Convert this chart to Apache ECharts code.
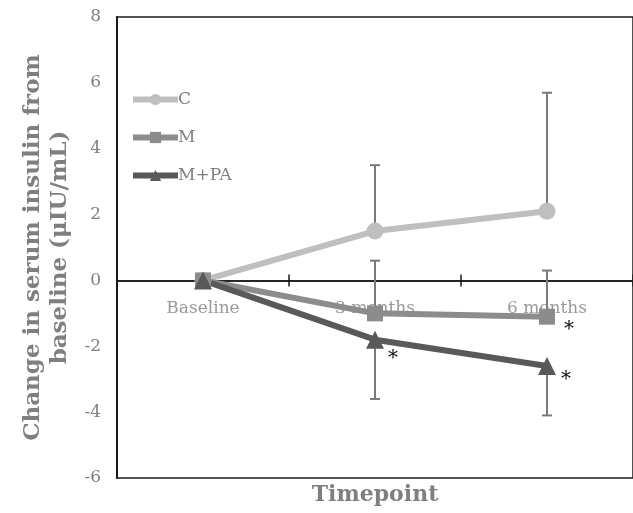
<!DOCTYPE html>
<html>
<head>
<meta charset="utf-8">
<script src="https://cdn.jsdelivr.net/npm/echarts@6/dist/echarts.min.js"></script>
<style>html,body{margin:0;padding:0;background:#fff}#c{width:633px;height:513px}</style>
</head>
<body>
<div id="c"></div>
<script>
const categories = ['Baseline', '3 months', '6 months'];
const seriesNames = ['C', 'M', 'M+PA'];
const valuesC = [0, 1.5, 2.1];
const valuesM = [0, -1.0, -1.1];
const valuesMPA = [0, -1.8, -2.6];
// signed error bar lengths (positive = upward, negative = downward)
const errC = [null, 2.0, 3.6];
const errM = [null, 1.6, 1.4];
const errMPA = [null, -1.8, -1.5];
const sigC = [false, false, false];
const sigM = [false, false, true];
const sigMPA = [false, true, true];
const yTicks = [-6, -4, -2, 0, 2, 4, 6, 8];

const FONT = 'DejaVu Serif';
const colors = ['#bfbfbf', '#8c8c8c', '#595959'];
const symbols = ['circle', 'rect', 'triangle'];
const symbolSizes = [17, 16, 18];
const starOffsets = [
  [[0,0],[0,0],[0,0]],
  [[0,0],[0,0],[22,13]],
  [[0,0],[18,19],[19,14]]
];
const allVals = [valuesC, valuesM, valuesMPA];
const allErr = [errC, errM, errMPA];
const allSig = [sigC, sigM, sigMPA];

const chart = echarts.init(document.getElementById('c'));

const lineSeries = seriesNames.map((name, s) => ({
  name: name,
  type: 'line',
  z: 3,
  data: allVals[s].map((v, i) => ({
    value: v,
    label: {
      show: allSig[s][i],
      formatter: '*',
      position: 'inside',
      offset: starOffsets[s][i],
      color: '#111',
      fontSize: 20,
      fontFamily: FONT
    }
  })),
  symbol: symbols[s],
  symbolSize: symbolSizes[s],
  showSymbol: true,
  lineStyle: { color: colors[s], width: 6 },
  itemStyle: { color: colors[s] },
  emphasis: { disabled: true },
  animation: false
}));

const errSeries = seriesNames.map((name, s) => ({
  name: name + ' err',
  type: 'custom',
  z: 2,
  data: allErr[s].map((e, i) => e == null ? null : [i, allVals[s][i], e]).filter(d => d),
  renderItem: function (params, api) {
    const x = api.value(0), y = api.value(1), e = api.value(2);
    const p0 = api.coord([x, y]);
    const p1 = api.coord([x, y + e]);
    const st = { stroke: '#7a7a7a', lineWidth: 2 };
    return {
      type: 'group',
      children: [
        { type: 'line', shape: { x1: p0[0], y1: p0[1], x2: p1[0], y2: p1[1] }, style: st },
        { type: 'line', shape: { x1: p1[0] - 5, y1: p1[1], x2: p1[0] + 5, y2: p1[1] }, style: st }
      ]
    };
  },
  animation: false
}));

// category labels placed just under the zero line (as in the reference)
const categoryLabelSeries = {
  name: 'category labels',
  type: 'scatter',
  z: 1,
  symbolSize: 0,
  data: categories.map((c, i) => [c, 0]),
  label: {
    show: true,
    position: 'bottom',
    distance: 20,
    formatter: p => categories[p.dataIndex],
    fontFamily: FONT, fontSize: 17, color: '#7f7f7f'
  },
  emphasis: { disabled: true },
  silent: true,
  animation: false
};

const axisDark = '#1a1a1a';

chart.setOption({
  animation: false,
  grid: {
    left: 117, right: -2, top: 17, bottom: 35,
    show: true, borderColor: axisDark, borderWidth: 1.5,
    containLabel: false
  },
  title: {
    text: 'Timepoint',
    left: 375, top: 484, textAlign: 'center',
    padding: 0,
    textStyle: { fontFamily: FONT, fontSize: 22, fontWeight: 'bold', color: '#7f7f7f' }
  },
  legend: {
    data: seriesNames,
    orient: 'vertical',
    left: 130, top: 91,
    padding: 0,
    itemWidth: 45, itemHeight: 14, itemGap: 21,
    lineStyle: { width: 6 },
    textStyle: { fontFamily: FONT, fontSize: 17, color: '#7f7f7f', padding: [0,0,0,-5] }
  },
  xAxis: [{
    type: 'category',
    data: categories,
    position: 'top',
    boundaryGap: true,
    axisLine: { onZero: true, onZeroAxisIndex: 0, lineStyle: { color: axisDark, width: 1.5 } },
    axisTick: { show: true, inside: false, length: 6, lineStyle: { color: axisDark, width: 1.5 } },
    axisLabel: { show: false },
    splitLine: { show: false }
  }, {
    type: 'category',
    data: categories,
    position: 'bottom',
    boundaryGap: true,
    axisLine: { onZero: true, onZeroAxisIndex: 1, lineStyle: { color: axisDark, width: 1.5 } },
    axisTick: { show: true, inside: false, length: 6, lineStyle: { color: axisDark, width: 1.5 } },
    axisLabel: { show: false },
    splitLine: { show: false }
  }],
  yAxis: [{
    type: 'value',
    min: yTicks[0], max: yTicks[yTicks.length - 1], interval: 2,
    axisLine: { show: true, lineStyle: { color: axisDark, width: 2 } },
    axisTick: { show: false },
    splitLine: { show: false },
    axisLabel: { fontFamily: FONT, fontSize: 17, color: '#7f7f7f', margin: 16 },
    name: 'Change in serum insulin from\nbaseline (μIU/mL)',
    nameLocation: 'middle',
    nameGap: 43,
    nameTextStyle: { fontFamily: FONT, fontSize: 23, fontWeight: 'bold', color: '#7f7f7f', lineHeight: 27, align: 'center' }
  }, {
    type: 'value',
    min: yTicks[0], max: yTicks[yTicks.length - 1], interval: 2,
    show: false
  }],
  series: [categoryLabelSeries, ...errSeries, ...lineSeries]
});
</script>
</body>
</html>
